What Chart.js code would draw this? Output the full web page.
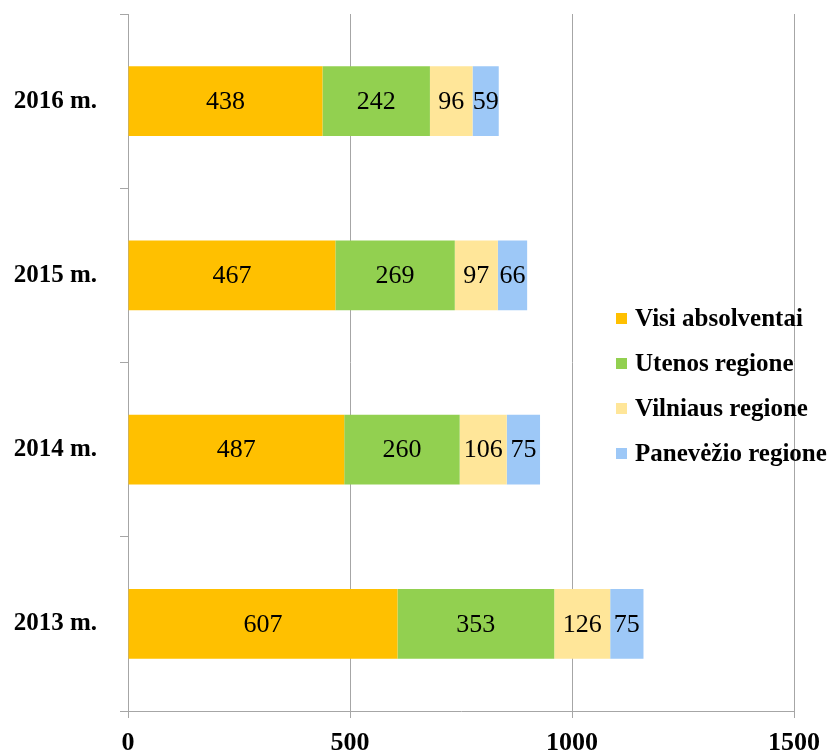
<!DOCTYPE html>
<html>
<head>
<meta charset="utf-8">
<script src="https://cdn.jsdelivr.net/npm/chart.js@4/dist/chart.umd.min.js"></script>
<style>
  html, body { margin: 0; padding: 0; background: #fff; }
  #wrap { position: relative; width: 835px; height: 753px; overflow: hidden; }
  #legend { position: absolute; left: 616px; top: 303px; font: bold 25px "Liberation Serif", "Times New Roman", serif; color: #000; }
  #legend div { height: 45px; line-height: 30px; white-space: nowrap; }
  #legend span { display: inline-block; width: 11px; height: 11px; margin-right: 8px; vertical-align: 2px; }
</style>
</head>
<body>
<div id="wrap">
  <canvas id="chart" width="835" height="753"></canvas>
  <div id="legend"></div>
</div>
<script>
// Years (top to bottom) and graduates per group
const years = ['2016 m.', '2015 m.', '2014 m.', '2013 m.'];
const visi = [438, 467, 487, 607];
const utenos = [242, 269, 260, 353];
const vilniaus = [96, 97, 106, 126];
const panevezio = [59, 66, 75, 75];
const xTicks = [0, 500, 1000, 1500];

const seriesNames = ['Visi absolventai', 'Utenos regione', 'Vilniaus regione', 'Panevėžio regione'];
const seriesColors = ['#FFC000', '#92D050', '#FFE699', '#9DC8F7'];
const seriesData = [visi, utenos, vilniaus, panevezio];

const serif = '"Liberation Serif", "Times New Roman", serif';

// draws the value in the middle of every segment
const valueLabels = {
    id: 'valueLabels',
    afterDatasetsDraw(chart) {
        const ctx = chart.ctx;
        ctx.save();
        ctx.font = '26px ' + serif;
        ctx.fillStyle = '#000';
        ctx.textAlign = 'center';
        ctx.textBaseline = 'middle';
        chart.data.datasets.forEach((ds, i) => {
            chart.getDatasetMeta(i).data.forEach((bar, j) => {
                const p = bar.getProps(['x', 'y', 'base']);
                ctx.fillText(ds.data[j], (p.x + p.base) / 2, p.y + 1);
            });
        });
        ctx.restore();
    }
};

const chart = new Chart(document.getElementById('chart'), {
    type: 'bar',
    data: {
        labels: years,
        datasets: seriesNames.map((name, i) => ({
            label: name,
            data: seriesData[i],
            backgroundColor: seriesColors[i],
            categoryPercentage: 1,
            barPercentage: 0.4
        }))
    },
    options: {
        indexAxis: 'y',
        responsive: false,
        animation: false,
        layout: { padding: { top: 14, right: 41, left: 0, bottom: 0 } },
        plugins: {
            legend: { display: false },
            tooltip: { enabled: false }
        },
        scales: {
            x: {
                stacked: true,
                min: 0,
                max: 1500,
                afterBuildTicks: axis => { axis.ticks = xTicks.map(v => ({ value: v })); },
                afterFit: axis => { axis.height = 42; },
                grid: { color: '#A6A6A6', lineWidth: 1, tickLength: 7 },
                border: { color: '#A6A6A6' },
                ticks: {
                    color: '#000',
                    padding: 10,
                    callback: v => String(v),
                    font: { family: serif, size: 26, weight: 'bold' }
                }
            },
            y: {
                stacked: true,
                afterFit: axis => {
                    axis.width = 128;
                    axis.paddingTop = 0;
                    axis.paddingBottom = 0;
                },
                grid: { offset: true, drawOnChartArea: false, color: '#A6A6A6', tickLength: 8 },
                border: { color: '#A6A6A6' },
                ticks: {
                    color: '#000',
                    padding: 23,
                    font: { family: serif, size: 25, weight: 'bold' }
                }
            }
        }
    },
    plugins: [valueLabels]
});

// legend as html, built from the datasets
const legend = document.getElementById('legend');
chart.data.datasets.forEach(ds => {
    const row = document.createElement('div');
    const box = document.createElement('span');
    box.style.background = ds.backgroundColor;
    row.appendChild(box);
    row.appendChild(document.createTextNode(ds.label));
    legend.appendChild(row);
});
</script>
</body>
</html>
